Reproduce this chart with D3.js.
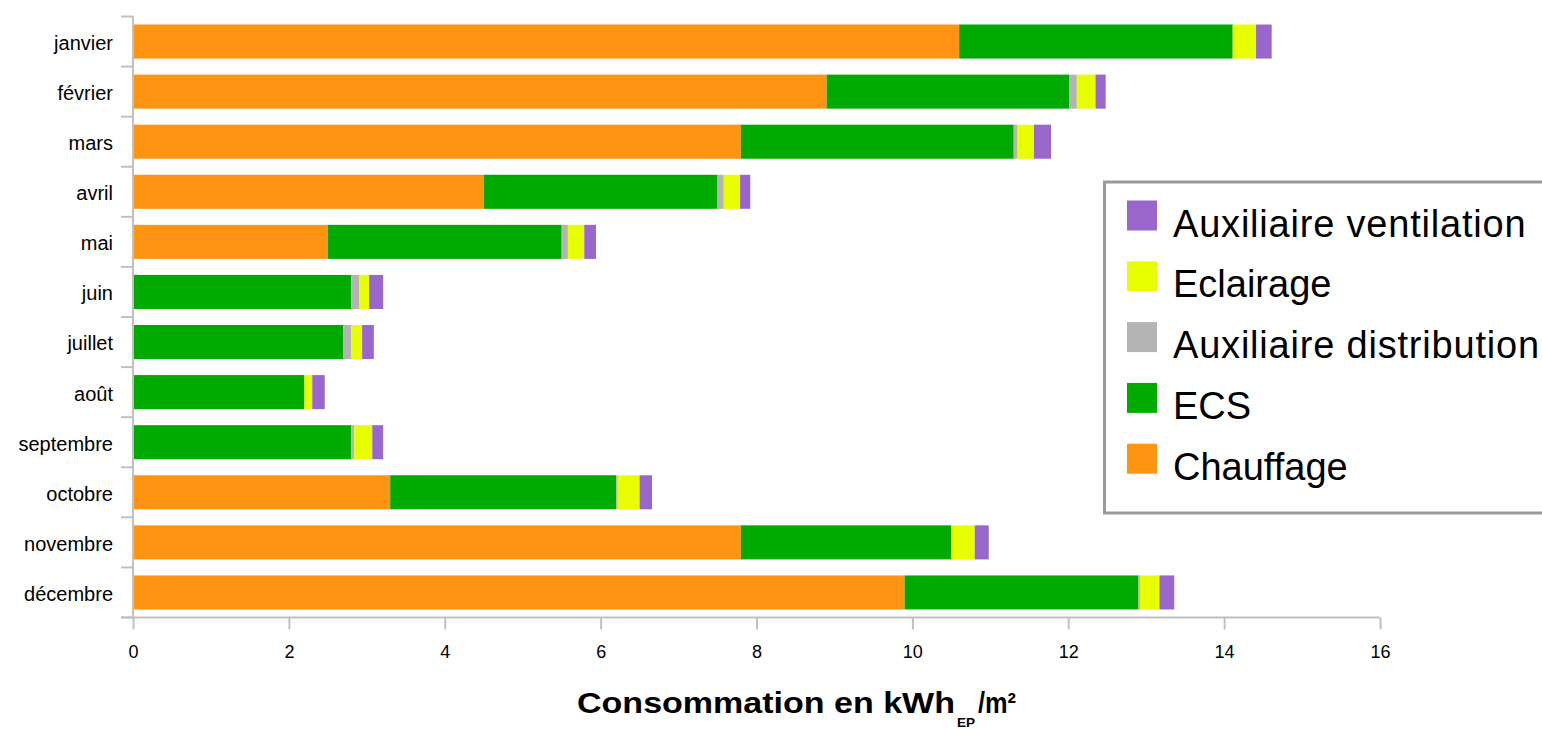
<!DOCTYPE html>
<html>
<head>
<meta charset="utf-8">
<script src="https://cdn.jsdelivr.net/npm/d3@7"></script>
<style>
  body { margin: 0; background: #fff; }
  svg { display: block; font-family: "Liberation Sans", Arial, sans-serif; }
  .axis path, .axis line { stroke: #c0c0c0; stroke-width: 2px; }
  .axis text { fill: #000; }
</style>
</head>
<body>
<div id="chart"></div>
<script>
const months = ['janvier', 'février', 'mars', 'avril', 'mai', 'juin', 'juillet', 'août', 'septembre', 'octobre', 'novembre', 'décembre'];
const chauffage = [10.6, 8.9, 7.8, 4.5, 2.5, 0, 0, 0, 0, 3.3, 7.8, 9.9];
const ecs = [3.51, 3.11, 3.5, 3.0, 3.0, 2.8, 2.7, 2.2, 2.8, 2.9, 2.7, 3.0];
const auxDistribution = [0, 0.1, 0.05, 0.08, 0.08, 0.1, 0.1, 0, 0.04, 0.02, 0, 0.02];
const eclairage = [0.3, 0.24, 0.21, 0.21, 0.21, 0.13, 0.14, 0.1, 0.23, 0.28, 0.3, 0.25];
const auxVentilation = [0.2, 0.13, 0.22, 0.13, 0.15, 0.18, 0.15, 0.16, 0.14, 0.16, 0.18, 0.19];
const xTicks = [0, 2, 4, 6, 8, 10, 12, 14, 16];

const series = [
  { key: 'Chauffage', values: chauffage, color: '#ff9412' },
  { key: 'ECS', values: ecs, color: '#00aa00' },
  { key: 'Auxiliaire distribution', values: auxDistribution, color: '#b4b4b4' },
  { key: 'Eclairage', values: eclairage, color: '#e8ff00' },
  { key: 'Auxiliaire ventilation', values: auxVentilation, color: '#9966cc' },
];

const W = 1542, H = 729;
const margin = { top: 16.5, left: 133 };
const plotW = 1247, plotH = 601;

const svg = d3.select('#chart').append('svg').attr('width', W).attr('height', H);
const g = svg.append('g').attr('transform', `translate(${margin.left},${margin.top})`);

const x = d3.scaleLinear().domain([0, 16]).range([0, plotW]);
const y = d3.scaleBand().domain(months).range([0, plotH]).paddingInner(0.32).paddingOuter(0.16);

const table = months.map((m, i) => {
  const row = { month: m };
  series.forEach(s => { row[s.key] = s.values[i]; });
  return row;
});
const stacked = d3.stack().keys(series.map(s => s.key))(table);

g.selectAll('.layer').data(stacked).enter().append('g')
  .attr('fill', (_, i) => series[i].color)
  .selectAll('rect').data(d => d).enter().append('rect')
  .attr('x', d => x(d[0]))
  .attr('width', d => x(d[1]) - x(d[0]))
  .attr('y', d => y(d.data.month))
  .attr('height', y.bandwidth());

// y axis, ticks sit between the categories
const yAxis = g.append('g').attr('class', 'axis');
yAxis.append('line').attr('x1', 0).attr('x2', 0).attr('y1', 0).attr('y2', plotH);
const bounds = d3.range(months.length + 1).map(i => i * plotH / months.length);
yAxis.selectAll('.yt').data(bounds).enter().append('line')
  .attr('x1', -12).attr('x2', 0).attr('y1', d => d).attr('y2', d => d);
yAxis.selectAll('text').data(months).enter().append('text')
  .attr('x', -20).attr('y', d => y(d) + y.bandwidth() / 2)
  .attr('dy', '0.42em').attr('text-anchor', 'end')
  .attr('font-size', '20px').text(d => d);

// x axis
const xAxis = g.append('g').attr('class', 'axis').attr('transform', `translate(0,${plotH})`)
  .call(d3.axisBottom(x).tickValues(xTicks).tickSize(12).tickPadding(16).tickFormat(d3.format('d')));
xAxis.select('.domain').attr('d', `M${-12},0H${plotW}`);
xAxis.selectAll('text').attr('font-size', '18px');

// x title (the original lettering is a little stretched sideways)
svg.append('text').attr('x', 577).attr('y', 713)
  .attr('font-size', '29px').attr('font-weight', 'bold')
  .attr('textLength', 378).attr('lengthAdjust', 'spacingAndGlyphs')
  .text('Consommation en kWh');
svg.append('text').attr('x', 957).attr('y', 727)
  .attr('font-size', '13px').attr('font-weight', 'bold')
  .attr('textLength', 18).attr('lengthAdjust', 'spacingAndGlyphs')
  .text('EP');
svg.append('text').attr('x', 978).attr('y', 713)
  .attr('font-size', '29px').attr('font-weight', 'bold')
  .attr('textLength', 38).attr('lengthAdjust', 'spacingAndGlyphs')
  .text('/m²');

// legend
const legend = svg.append('g');
legend.append('rect').attr('x', 1104.5).attr('y', 182).attr('width', 460).attr('height', 331)
  .attr('fill', '#fff').attr('stroke', '#999').attr('stroke-width', 3);
const legendItems = series.slice().reverse();
legendItems.forEach((s, i) => {
  const yy = 200.5 + i * 60.8;
  legend.append('rect').attr('x', 1127).attr('y', yy).attr('width', 30).attr('height', 30).attr('fill', s.color);
  legend.append('text').attr('x', 1173).attr('y', yy + 36).attr('font-size', '38px')
    .style('letter-spacing', s.key.startsWith('Aux') ? '0.8px' : '0px').text(s.key);
});
</script>
</body>
</html>
